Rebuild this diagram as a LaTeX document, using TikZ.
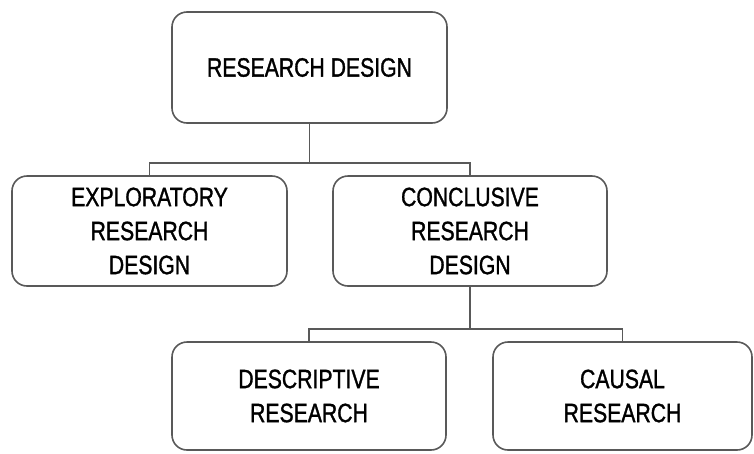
\documentclass[tikz,border=0pt]{standalone}
\usepackage{fontspec}
\setmainfont[FakeStretch=0.8,FakeBold=1.2]{Liberation Sans}
\usetikzlibrary{positioning}
\definecolor{boxgray}{gray}{0.35}
\tikzset{
  designbox/.style={draw=boxgray, line width=1.6pt, rounded corners=15pt,
    align=center, inner sep=0pt, minimum height=110pt,
    font=\fontsize{26.5}{34}\selectfont},
  link/.style={draw=boxgray, line width=1.6pt},
}

\begin{document}
\begin{tikzpicture}[x=1pt,y=-1pt]
\useasboundingbox (0,0) rectangle (754,453);
% boxes
\node[designbox, minimum width=275pt, minimum height=111pt] (design) at (309.5,67.5) {RESEARCH DESIGN};
\node[designbox, minimum width=275pt] (explor) at (149.5,231) {EXPLORATORY\\RESEARCH\\DESIGN};
\node[designbox, minimum width=274pt] (conclu) at (470,231) {CONCLUSIVE\\RESEARCH\\DESIGN};
\node[designbox, minimum width=274pt, minimum height=108pt] (descr) at (309,396) {DESCRIPTIVE\\RESEARCH};
\node[designbox, minimum width=259pt, minimum height=108pt] (causal) at (622.5,396) {CAUSAL\\RESEARCH};
% branch points
\coordinate (split1) at (309.5,163);
\coordinate (split2) at (470,329);
% connectors
\draw[link] (design.south) -- (split1);
\draw[link] (explor.north) |- (split1) -| (conclu.north);
\draw[link] (conclu.south) -- (split2);
\draw[link] (descr.north) |- (split2) -| (causal.north);
\end{tikzpicture}
\end{document}
